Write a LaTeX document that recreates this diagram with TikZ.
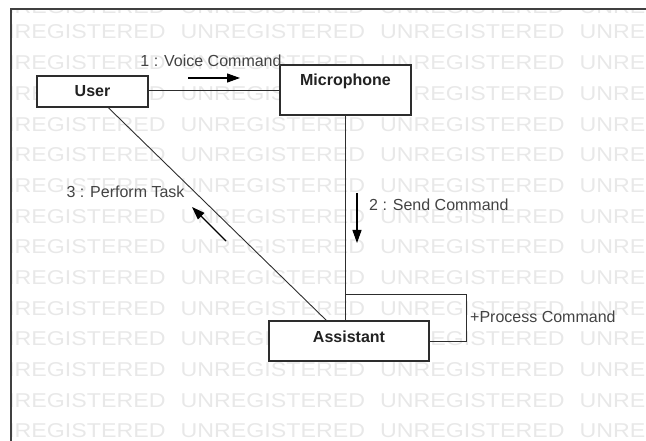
\documentclass[tikz,border=0pt]{standalone}
\usepackage{fontspec}
\setmainfont{Liberation Sans}
\usetikzlibrary{arrows.meta,calc}
\definecolor{wmark}{RGB}{232,232,232}
\definecolor{ink}{RGB}{34,34,34}
\definecolor{edge}{RGB}{45,45,45}
\begin{document}
\begin{tikzpicture}[x=1pt,y=-1pt,
  box/.style={draw=edge, line width=1.1pt, fill=white, rectangle, inner sep=0pt},
  objname/.style={font=\fontsize{16}{18}\selectfont\bfseries, text=ink, inner sep=0pt},
  msg/.style={font=\fontsize{16}{18}\selectfont, text=ink!85, inner sep=0pt, anchor=base},
  link/.style={draw=edge, line width=0.9pt},
  flow/.style={draw=black, line width=1.1pt, -{Triangle[length=13pt,width=9pt]}},
  wm/.style={font=\fontsize{20}{24}\selectfont, text=wmark, anchor=base west, inner sep=0pt}
]
\useasboundingbox (0,0) rectangle (646,441);

% background watermark rows
\begin{scope}
  \clip (11,9) rectangle (646,441);
  \foreach \c in {0,...,3} {
    \node[wm] (wm-top-\c) at ({-19+199.5*\c},14) {\scalebox{1.16}[1]{UNREGISTERED}};
  }
  \foreach \r in {0,...,13} {
    \foreach \c in {0,...,3} {
      \node[wm] (wm-\r-\c) at ({-19+199.5*\c},{39+30.67*\r}) {\scalebox{1.16}[1]{UNREGISTERED}};
    }
  }
\end{scope}

% frame
\draw[line width=2pt, draw=black!75] (11,441) -- (11,9) -- (646,9);

% objects
\node[box, minimum width=111pt, minimum height=31pt] (user) at (92.5,91.5) {};
\node[objname] (userl) at (user.center) {User};
\node[box, minimum width=131pt, minimum height=50pt] (mic) at (345.5,90) {};
\node[objname, anchor=base] (micl) at (345.5,86) {Microphone};
\node[box, minimum width=160pt, minimum height=40pt] (asst) at (349,341) {};
\node[objname, anchor=base] (asstl) at (349,342) {Assistant};

% links
\draw[link] (mic.west) -- (mic.west -| user.east);
\draw[link] (mic.south) -- (mic.south |- asst.north);
\coordinate (uA) at ($(user.south west)!0.64!(user.south east)$);
\coordinate (aU) at ($(asst.north west)!0.36!(asst.north east)$);
\draw[link] (uA) -- (aU);
\coordinate (loopA) at (mic.south |- asst.north);
\coordinate (loopB) at ($(asst.east)+(37,0)$);
\draw[link] (loopA) -- ++(0,-26) -| (loopB) -- (asst.east);

% messages
\coordinate (m1a) at (188,78);
\coordinate (m1b) at (240,78);
\draw[flow] (m1a) -- (m1b);
\node[msg] (m1) at (211,67) {1 : Voice Command};

\coordinate (m2a) at (357,193);
\coordinate (m2b) at (357,243);
\draw[flow] (m2a) -- (m2b);
\node[msg, anchor=base west] (m2) at (369,211) {2 : Send Command};

\coordinate (m3a) at (226,241);
\coordinate (m3b) at (192,207);
\draw[flow] (m3a) -- (m3b);
\node[msg] (m3) at (125.5,198) {3 : Perform Task};

\node[msg, anchor=base west] (m4) at (470,322) {+Process Command};
\end{tikzpicture}
\end{document}
